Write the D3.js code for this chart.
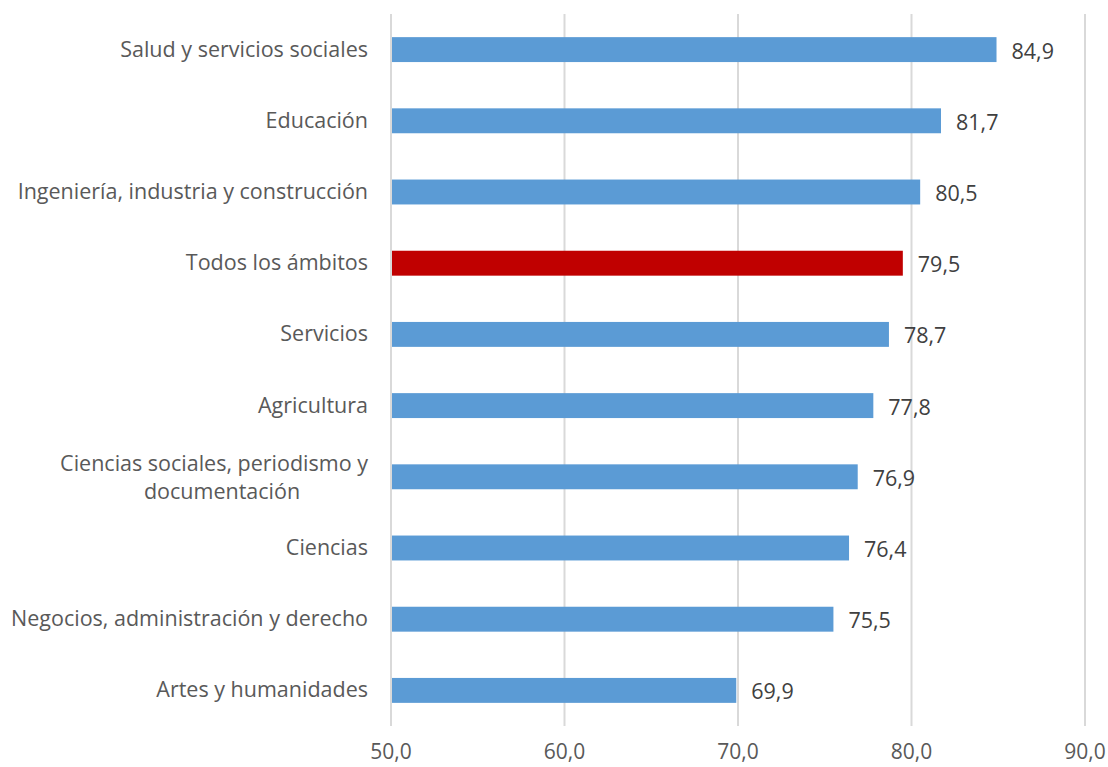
<html>
<head>
  <meta charset="utf-8">
  <script src="https://d3js.org/d3.v7.min.js"></script>
  <style>
    body { margin: 0; background: #fff; font-family: "Open Sans"; }
    .grid line { stroke: #d9d9d9; stroke-width: 2px; }
    .cat { font-size: 21.5px; fill: #595959; }
    .val { font-size: 21.5px; fill: #404040; }
    .tick-lbl { font-size: 21px; fill: #595959; }
  </style>
</head>
<body>
  <svg width="1108" height="767"></svg>
  <script>
    var categories = [
      "Salud y servicios sociales",
      "Educación",
      "Ingeniería, industria y construcción",
      "Todos los ámbitos",
      "Servicios",
      "Agricultura",
      "Ciencias sociales, periodismo y|documentación",
      "Ciencias",
      "Negocios, administración y derecho",
      "Artes y humanidades"
    ];
    var values = [84.9, 81.7, 80.5, 79.5, 78.7, 77.8, 76.9, 76.4, 75.5, 69.9];
    var highlight = "Todos los ámbitos";
    var xTicks = [50, 60, 70, 80, 90];

    var svg = d3.select("svg"),
        margin = {top: 14, right: 23, bottom: 41, left: 391},
        width = +svg.attr("width") - margin.left - margin.right,
        height = +svg.attr("height") - margin.top - margin.bottom,
        g = svg.append("g").attr("transform", "translate(" + margin.left + "," + margin.top + ")");

    var x = d3.scaleLinear().domain([50, 90]).range([0, width]);
    var y = d3.scaleBand().domain(categories).range([0, height]).paddingInner(0.65).paddingOuter(0.325);

    var fmt = function(v) { return d3.format(".1f")(v).replace(".", ","); };

    g.append("g").attr("class", "grid")
      .selectAll("line").data(xTicks).enter().append("line")
        .attr("x1", function(d) { return x(d); })
        .attr("x2", function(d) { return x(d); })
        .attr("y1", 0).attr("y2", height);

    g.selectAll(".tick-lbl").data(xTicks).enter().append("text")
        .attr("class", "tick-lbl")
        .attr("x", function(d) { return x(d); })
        .attr("y", height + 33)
        .attr("text-anchor", "middle")
        .text(fmt);

    var data = categories.map(function(c, i) { return {cat: c, value: values[i]}; });

    g.selectAll(".bar").data(data).enter().append("rect")
        .attr("class", "bar")
        .attr("x", x(50) + 1)
        .attr("y", function(d) { return y(d.cat); })
        .attr("width", function(d) { return x(d.value) - x(50) - 1; })
        .attr("height", y.bandwidth())
        .attr("fill", function(d) { return d.cat === highlight ? "#c00000" : "#5b9bd5"; });

    g.selectAll(".val").data(data).enter().append("text")
        .attr("class", "val")
        .attr("x", function(d) { return x(d.value) + 15; })
        .attr("y", function(d) { return y(d.cat) + y.bandwidth() / 2 + 9; })
        .text(function(d) { return fmt(d.value); });

    data.forEach(function(d) {
      var lines = d.cat.split("|");
      var cy = y(d.cat) + y.bandwidth() / 2;
      if (lines.length === 1) {
        g.append("text").attr("class", "cat")
          .attr("x", -23).attr("y", cy + 7)
          .attr("text-anchor", "end").text(lines[0]);
      } else {
        var t1 = g.append("text").attr("class", "cat")
          .attr("x", -23).attr("y", cy - 6)
          .attr("text-anchor", "end").text(lines[0]);
        var w = t1.node().getComputedTextLength();
        g.append("text").attr("class", "cat")
          .attr("x", -23 - w / 2 + 8).attr("y", cy + 22)
          .attr("text-anchor", "middle").text(lines[1]);
      }
    });
  </script>
</body>
</html>
